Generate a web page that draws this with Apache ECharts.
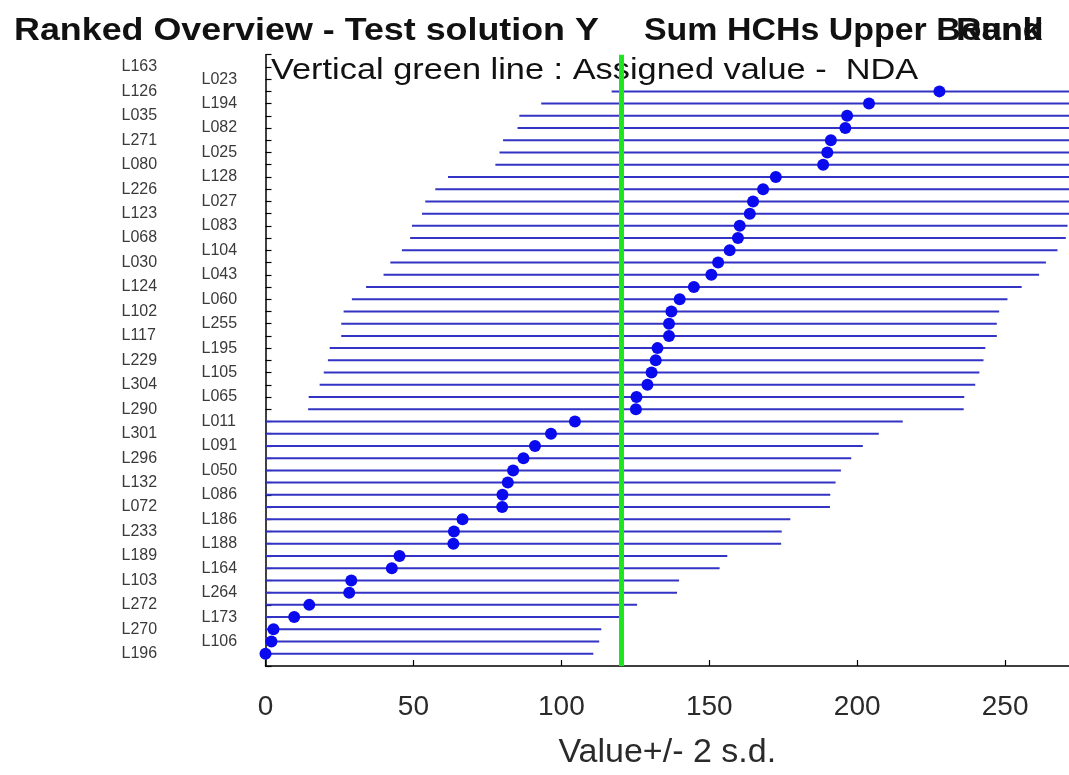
<!DOCTYPE html>
<html><head><meta charset="utf-8">
<script src="https://cdn.jsdelivr.net/npm/echarts@6/dist/echarts.min.js"></script>
<style>html,body{margin:0;padding:0;background:#fff}#c{width:1069px;height:775px}</style>
</head><body><div id="c"></div>
<script>
// Labs ranked from the lowest value (bottom row) to the highest (top row)
const labs = ['L196','L106','L270','L173','L272','L264','L103','L164','L189','L188','L233','L186','L072','L086','L132','L050','L296','L091','L301','L011','L290','L065','L304','L105','L229','L195','L117','L255','L102','L060','L124','L043','L030','L104','L068','L083','L123','L027','L226','L128','L080','L025','L271','L082','L035','L194','L126','L023','L163'];
const values = [0,2.0,2.7,9.7,14.8,28.3,29.0,42.7,45.3,63.5,63.7,66.6,80.0,80.1,81.9,83.7,87.2,91.1,96.5,104.6,125.2,125.4,129.1,130.5,131.9,132.5,136.4,136.4,137.2,140.0,144.8,150.7,153.0,156.9,159.7,160.3,163.7,164.8,168.2,172.5,188.5,189.9,191.1,196.0,196.6,204.0,227.8,null,null];
const twoSd = 110.8;          // half-length of each horizontal bar (2 s.d.)
const assignedValue = 120.4;  // vertical green line
const xTicks = [0,50,100,150,200,250];

const FONT = '"Liberation Sans", Arial, Helvetica, sans-serif';

const barData = [];
const dotData = [];
values.forEach((v, i) => {
  if (v === null) return;
  barData.push([v - twoSd, v + twoSd, i + 1]);
  dotData.push([v, i + 1]);
});

const chart = echarts.init(document.getElementById('c'), null, {renderer: 'canvas'});
chart.setOption({
  animation: false,
  backgroundColor: '#fff',
  graphic: [
    {type: 'text', x: 14, y: 15, scaleX: 1.12, style: {text: 'Ranked Overview - Test solution Y', font: 'bold 32px ' + FONT, fill: '#111', verticalAlign: 'top'}},
    {type: 'text', x: 644, y: 15, scaleX: 1.06, style: {text: 'Sum HCHs Upper Bound', font: 'bold 32px ' + FONT, fill: '#111', verticalAlign: 'top'}},
    {type: 'text', x: 956, y: 15, scaleX: 1.1, style: {text: 'Rank', font: 'bold 32px ' + FONT, fill: '#111', verticalAlign: 'top'}},
    {type: 'text', x: 271, y: 56, scaleX: 1.145, style: {text: 'Vertical green line : Assigned value -  NDA', font: '30px ' + FONT, fill: '#111', verticalAlign: 'top'}}
  ],
  grid: {left: 265.5, top: 54.7, width: 804, height: 612},
  xAxis: {
    type: 'value', min: 0, max: 271.6, interval: 50,
    axisLine: {show: true, lineStyle: {color: '#000', width: 1.5}},
    axisTick: {show: true, inside: true, length: 6, lineStyle: {color: '#000', width: 1.2}},
    splitLine: {show: false},
    axisLabel: {fontSize: 28, fontFamily: FONT, color: '#2a2a2a', margin: 27, showMaxLabel: false,
      formatter: v => xTicks.indexOf(v) >= 0 ? String(v) : ''},
    name: 'Value+/- 2 s.d.', nameLocation: 'middle', nameGap: 70,
    nameTextStyle: {fontSize: 34, fontFamily: FONT, color: '#2a2a2a'}
  },
  yAxis: [
    {
      type: 'value', min: 0, max: 50, interval: 1,
      axisLine: {show: true, lineStyle: {color: '#000', width: 1.5}},
      axisTick: {show: true, inside: true, length: 6, lineStyle: {color: '#000', width: 1.2}},
      splitLine: {show: false},
      axisLabel: {fontSize: 16, fontFamily: FONT, color: '#3a3a3a', align: 'left', margin: 144,
        formatter: v => (v % 2 === 1 && labs[v - 1]) ? labs[v - 1] : ''}
    },
    {
      type: 'value', min: 0, max: 50, interval: 1, position: 'left',
      axisLine: {show: false}, axisTick: {show: false}, splitLine: {show: false},
      axisLabel: {fontSize: 16, fontFamily: FONT, color: '#3a3a3a', align: 'left', margin: 64,
        formatter: v => (v % 2 === 0 && labs[v - 1]) ? labs[v - 1] : ''}
    }
  ],
  series: [
    {
      type: 'custom',
      yAxisIndex: 0,
      data: barData,
      encode: {x: [0, 1], y: 2},
      renderItem: function (params, api) {
        const y = api.value(2);
        const p1 = api.coord([api.value(0), y]);
        const p2 = api.coord([api.value(1), y]);
        const cs = params.coordSys;
        const x1 = Math.max(p1[0], cs.x);
        const x2 = Math.min(p2[0], cs.x + cs.width);
        if (x2 <= x1) return null;
        return {type: 'line', shape: {x1: x1, y1: p1[1], x2: x2, y2: p2[1]},
          style: {stroke: '#3333c4', lineWidth: 2}};
      },
      markLine: {
        silent: true, symbol: 'none', label: {show: false},
        lineStyle: {color: '#1ee61e', width: 5, type: 'solid'},
        data: [{xAxis: assignedValue}]
      },
      z: 2
    },
    {
      type: 'scatter',
      yAxisIndex: 0,
      data: dotData,
      symbol: 'circle',
      symbolSize: 12,
      itemStyle: {color: '#0a0aee', opacity: 1},
      z: 4
    }
  ]
});
</script>
</body></html>
